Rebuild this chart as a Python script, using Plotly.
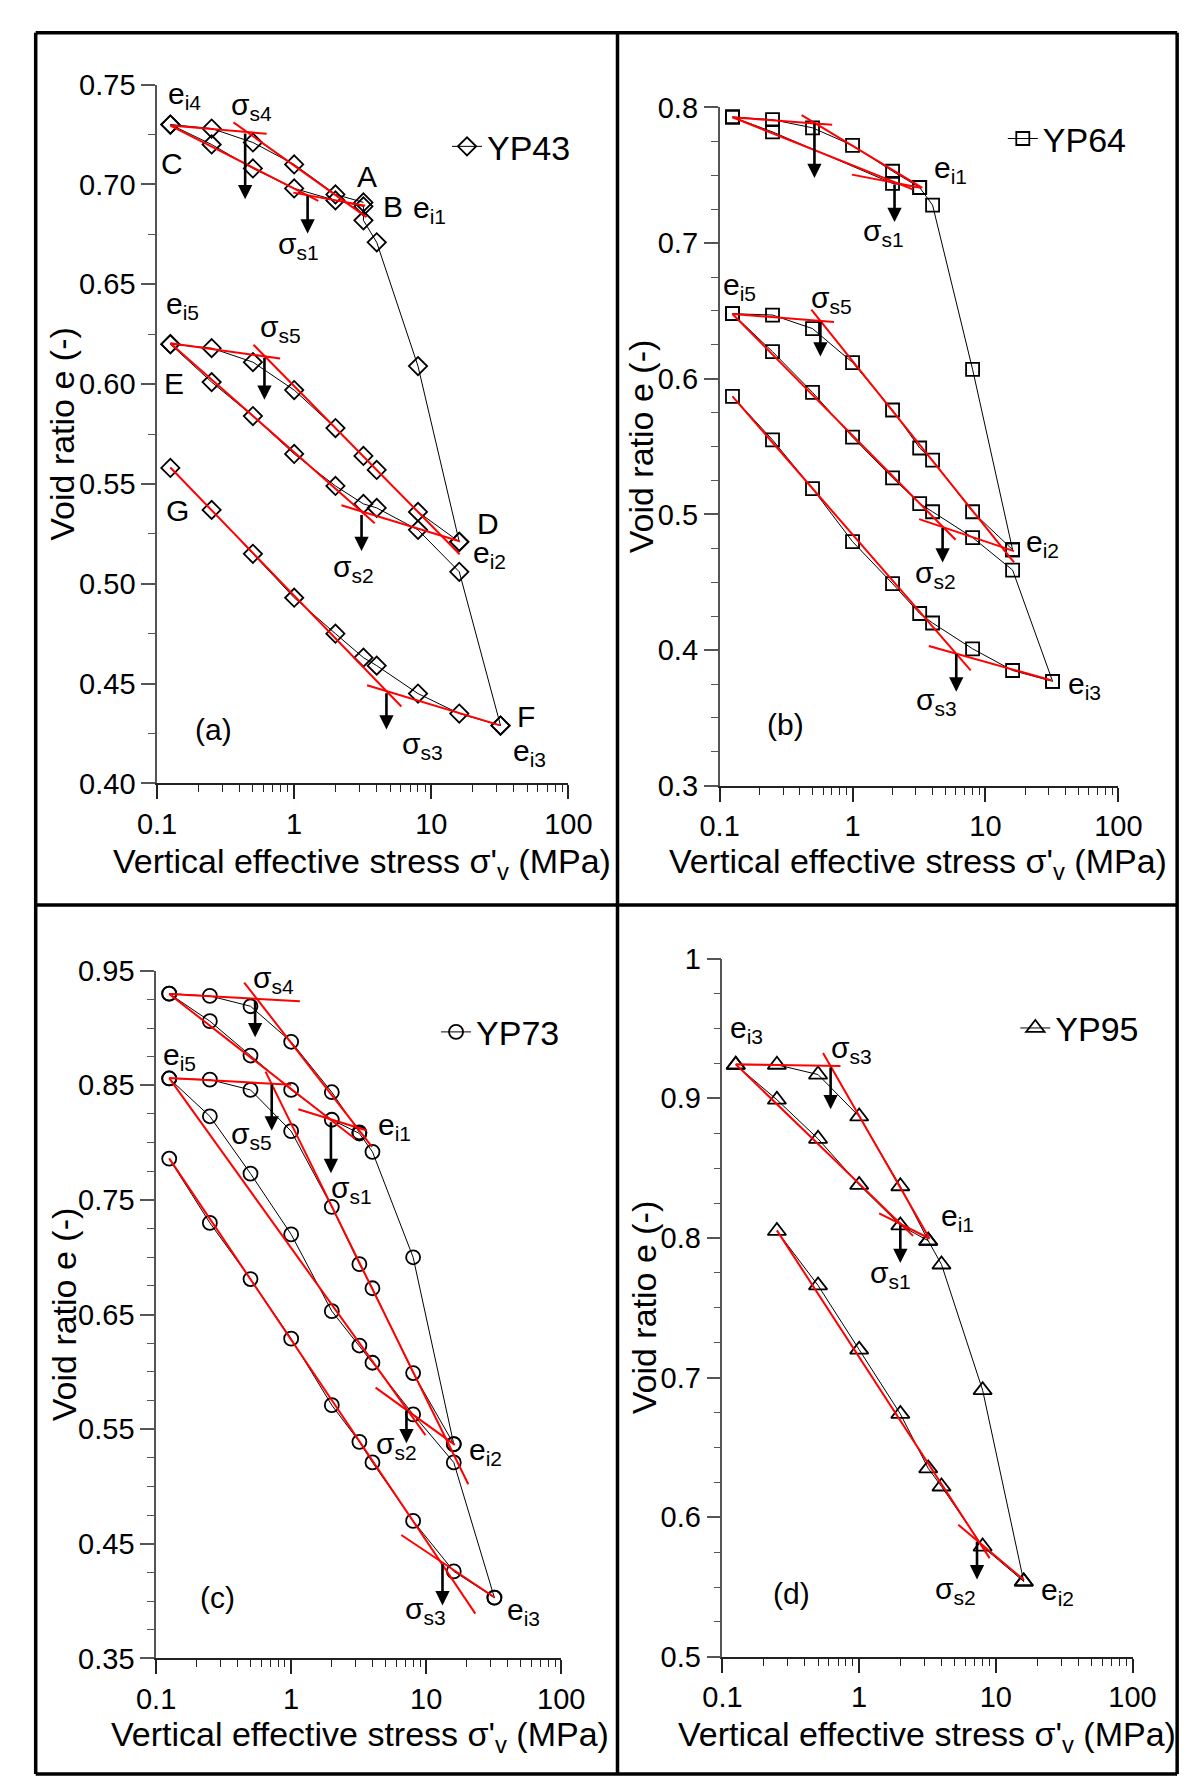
import numpy as np
import plotly.graph_objects as go

# ---------------- DATA ----------------
# Panel (a) YP43
A_UP_S = [0.125, 0.25, 0.5, 1, 2, 3.2]
A_UP_E = [0.730, 0.728, 0.721, 0.710, 0.695, 0.691]
A_LO_S = [0.125, 0.25, 0.5, 1, 2, 3.2, 3.2, 4, 8, 16]
A_LO_E = [0.730, 0.720, 0.708, 0.698, 0.692, 0.689, 0.682, 0.671, 0.609, 0.521]
A_MU_S = [0.125, 0.25, 0.5, 1, 2, 3.2, 4, 8, 16]
A_MU_E = [0.620, 0.618, 0.611, 0.597, 0.578, 0.564, 0.557, 0.536, 0.521]
A_ML_S = [0.125, 0.25, 0.5, 1, 2, 3.2, 4, 8, 16, 32]
A_ML_E = [0.620, 0.601, 0.584, 0.565, 0.549, 0.540, 0.538, 0.527, 0.506, 0.429]
A_LW_S = [0.125, 0.25, 0.5, 1, 2, 3.2, 4, 8, 16, 32]
A_LW_E = [0.558, 0.537, 0.515, 0.493, 0.475, 0.463, 0.459, 0.445, 0.435, 0.429]
A_FIT = [(0.125, 0.7295, 0.63, 0.7254), (0.361, 0.7311, 3.37, 0.6836),
         (0.125, 0.7295, 1.50, 0.6918), (0.986, 0.6959, 3.3, 0.6893),
         (0.125, 0.6205, 0.79, 0.6128), (0.505, 0.6197, 16.1, 0.5148),
         (0.125, 0.6205, 3.87, 0.5303), (2.21, 0.5393, 16.1, 0.5213),
         (0.125, 0.5582, 6.05, 0.4385), (3.4, 0.4492, 31.4, 0.4292)]
A_YIELD = [(0.439, 0.7262, 0.6926), (1.253, 0.6951, 0.6754), (0.607, 0.6139, 0.5921),
           (3.1, 0.5352, 0.5164), (4.71, 0.4459, 0.4270)]
A_LABELS = [("e<sub>i4</sub>", 0.158, 0.7443), ("σ<sub>s4</sub>", 0.49, 0.7391), ("C", 0.129, 0.7103),
            ("A", 3.4, 0.7041), ("B", 5.26, 0.6889), ("e<sub>i1</sub>", 9.7, 0.6874),
            ("σ<sub>s1</sub>", 1.07, 0.6693), ("e<sub>i5</sub>", 0.152, 0.6393), ("σ<sub>s5</sub>", 0.79, 0.6279),
            ("E", 0.132, 0.6004), ("σ<sub>s2</sub>", 2.7, 0.5076), ("D", 25.8, 0.5304),
            ("e<sub>i2</sub>", 26.5, 0.5145), ("G", 0.14, 0.5369), ("σ<sub>s3</sub>", 8.7, 0.4188),
            ("F", 49, 0.4337), ("e<sub>i3</sub>", 51.7, 0.4154), ("(a)", 0.258, 0.4272)]

# Panel (b) YP64
B_UP_S = [0.125, 0.25, 0.5, 1, 2, 3.2]
B_UP_E = [0.793, 0.791, 0.785, 0.772, 0.753, 0.741]
B_LO_S = [0.125, 0.25, 2, 3.2, 4, 8, 16]
B_LO_E = [0.793, 0.782, 0.744, 0.741, 0.728, 0.607, 0.474]
B_MU_S = [0.125, 0.25, 0.5, 1, 2, 3.2, 4, 8, 16]
B_MU_E = [0.648, 0.647, 0.637, 0.612, 0.577, 0.549, 0.540, 0.502, 0.474]
B_ML_S = [0.125, 0.25, 0.5, 1, 2, 3.2, 4, 8, 16, 32]
B_ML_E = [0.648, 0.620, 0.590, 0.557, 0.527, 0.508, 0.502, 0.483, 0.459, 0.377]
B_LW_S = [0.125, 0.25, 0.5, 1, 2, 3.2, 4, 8, 16, 32]
B_LW_E = [0.587, 0.555, 0.519, 0.480, 0.449, 0.427, 0.420, 0.401, 0.385, 0.377]
B_FIT = [(0.125, 0.7928, 0.703, 0.7872), (0.414, 0.7944, 3.35, 0.7408),
         (0.125, 0.7928, 2.84, 0.7396), (0.99, 0.7505, 3.26, 0.7408),
         (0.125, 0.6478, 0.725, 0.6418), (0.49, 0.651, 16.4, 0.4646),
         (0.125, 0.6478, 5.96, 0.4814), (3.17, 0.4966, 16.4, 0.473),
         (0.125, 0.587, 7.74, 0.3851), (3.75, 0.4031, 31.2, 0.3778)]
B_YIELD = [(0.517, 0.7891, 0.748), (2.07, 0.7444, 0.7155), (0.573, 0.643, 0.6164),
           (4.76, 0.4911, 0.4646), (6.03, 0.3983, 0.3694)]
B_LABELS = [("e<sub>i4</sub>", 0.144, 0.8109), ("σ<sub>s4</sub>", 0.665, 0.8033), ("e<sub>i1</sub>", 5.5, 0.7542),
            ("σ<sub>s1</sub>", 1.72, 0.7077), ("e<sub>i5</sub>", 0.142, 0.6684), ("σ<sub>s5</sub>", 0.70, 0.6581),
            ("e<sub>i2</sub>", 27, 0.4789), ("σ<sub>s2</sub>", 4.19, 0.4555), ("σ<sub>s3</sub>", 4.3, 0.3625),
            ("e<sub>i3</sub>", 56, 0.3736), ("(b)", 0.313, 0.345)]

# Panel (c) YP73
C_UP_S = [0.125, 0.25, 0.5, 1, 2, 3.2]
C_UP_E = [0.930, 0.928, 0.919, 0.888, 0.844, 0.809]
C_LO_S = [0.125, 0.25, 0.5, 1, 2, 3.2, 4, 8, 16]
C_LO_E = [0.930, 0.906, 0.876, 0.846, 0.820, 0.808, 0.792, 0.700, 0.537]
C_MU_S = [0.125, 0.25, 0.5, 1, 2, 3.2, 4, 8, 16]
C_MU_E = [0.856, 0.855, 0.846, 0.810, 0.744, 0.694, 0.673, 0.599, 0.537]
C_ML_S = [0.125, 0.25, 0.5, 1, 2, 3.2, 4, 8, 16, 32]
C_ML_E = [0.856, 0.823, 0.773, 0.720, 0.653, 0.623, 0.608, 0.563, 0.521, 0.403]
C_LW_S = [0.125, 0.25, 0.5, 1, 2, 3.2, 4, 8, 16, 32]
C_LW_E = [0.786, 0.730, 0.681, 0.629, 0.571, 0.539, 0.521, 0.470, 0.426, 0.403]
C_FIT = [(0.125, 0.9297, 1.16, 0.9234), (0.449, 0.9397, 3.97, 0.7963),
         (0.125, 0.9297, 2.97, 0.8034), (1.13, 0.8291, 3.64, 0.8106),
         (0.125, 0.8563, 1.0, 0.8506), (0.646, 0.862, 20.5, 0.502),
         (0.125, 0.8563, 9.87, 0.5449), (4.22, 0.5863, 16.3, 0.5363),
         (0.125, 0.7863, 23.1, 0.3891), (6.54, 0.4577, 32, 0.4034)]
C_YIELD = [(0.541, 0.9249, 0.892), (0.718, 0.852, 0.8106), (1.97, 0.8191, 0.7734),
           (7.14, 0.5677, 0.5377), (13.2, 0.4334, 0.3963)]
C_LABELS = [("e<sub>i4</sub>", 0.149, 0.9541), ("σ<sub>s4</sub>", 0.746, 0.942), ("e<sub>i5</sub>", 0.149, 0.8749),
            ("σ<sub>s5</sub>", 0.51, 0.8063), ("e<sub>i1</sub>", 5.82, 0.8142), ("σ<sub>s1</sub>", 2.79, 0.7587),
            ("σ<sub>s2</sub>", 5.98, 0.536), ("e<sub>i2</sub>", 27.6, 0.5307), ("σ<sub>s3</sub>", 9.87, 0.3922),
            ("e<sub>i3</sub>", 52.6, 0.3907), ("(c)", 0.284, 0.4036)]

# Panel (d) YP95
D_UP_S = [0.125, 0.25, 0.5, 1, 2, 3.2]
D_UP_E = [0.924, 0.924, 0.917, 0.887, 0.837, 0.798]
D_LO_S = [0.125, 0.25, 0.5, 1, 2, 3.2, 4, 8, 16]
D_LO_E = [0.924, 0.899, 0.871, 0.838, 0.809, 0.798, 0.781, 0.691, 0.554]
D_LW_S = [0.25, 0.5, 1, 2, 3.2, 4, 8, 16]
D_LW_E = [0.805, 0.766, 0.720, 0.674, 0.635, 0.622, 0.579, 0.554]
D_FIT = [(0.125, 0.9243, 0.73, 0.9231), (0.544, 0.9325, 3.27, 0.7996),
         (0.125, 0.9243, 2.48, 0.8015), (1.40, 0.8176, 3.27, 0.7996),
         (0.25, 0.8054, 9.0, 0.5707), (5.31, 0.5946, 16.1, 0.555)]
D_YIELD = [(0.618, 0.9231, 0.8922), (2.0, 0.8101, 0.782), (7.28, 0.5836, 0.5555)]
D_LABELS = [("e<sub>i3</sub>", 0.151, 0.9496), ("σ<sub>s3</sub>", 0.873, 0.935), ("e<sub>i1</sub>", 5.2, 0.8148),
            ("σ<sub>s1</sub>", 1.70, 0.7738), ("σ<sub>s2</sub>", 5.06, 0.5476), ("e<sub>i2</sub>", 28.4, 0.5471),
            ("(d)", 0.321, 0.5453)]

X_TICKS = [0.1, 1, 10, 100]
X_TICKTEXT = ["0.1", "1", "10", "100"]

# ---------------- LAYOUT ----------------
W, H = 1197, 1785
FONT = "Liberation Sans, Arial, sans-serif"


def fx(px):
    return px / W


def fy(py):
    return 1 - py / H


PANELS = [
    dict(name="YP43", sym="diamond-open", msize=14,
         branches=[(A_UP_S, A_UP_E), (A_LO_S, A_LO_E), (A_MU_S, A_MU_E), (A_ML_S, A_ML_E), (A_LW_S, A_LW_E)],
         fit=A_FIT, yld=A_YIELD, labels=A_LABELS,
         xdom=(134, 561), ydom=(773.3, 61.7), yrange=(0.40, 0.75), dtick=0.05, tick0=0.40, fmt=".2f",
         ytext=None, leg=(456, 125), ytitle_x=35, xtitle_x=347, xtitle_y=855),
    dict(name="YP64", sym="square-open", msize=13,
         branches=[(B_UP_S, B_UP_E), (B_LO_S, B_LO_E), (B_MU_S, B_MU_E), (B_ML_S, B_ML_E), (B_LW_S, B_LW_E)],
         fit=B_FIT, yld=B_YIELD, labels=B_LABELS,
         xdom=(718, 1132), ydom=(775.7, 85), yrange=(0.3, 0.8), dtick=0.1, tick0=0.3, fmt=".1f",
         ytext=None, leg=(1033, 117), ytitle_x=636, xtitle_x=924, xtitle_y=855),
    dict(name="YP73", sym="circle-open", msize=14,
         branches=[(C_UP_S, C_UP_E), (C_LO_S, C_LO_E), (C_MU_S, C_MU_E), (C_ML_S, C_ML_E), (C_LW_S, C_LW_E)],
         fit=C_FIT, yld=C_YIELD, labels=C_LABELS,
         xdom=(133, 553.6), ydom=(1664.3, 964), yrange=(0.35, 0.95), dtick=0.1, tick0=0.35, fmt=".2f",
         ytext=None, leg=(444.6, 1026.7), ytitle_x=37, xtitle_x=345, xtitle_y=1744),
    dict(name="YP95", sym="triangle-up-open", msize=16,
         branches=[(D_UP_S, D_UP_E), (D_LO_S, D_LO_E), (D_LW_S, D_LW_E)],
         fit=D_FIT, yld=D_YIELD, labels=D_LABELS,
         xdom=(721, 1146.7), ydom=(1662.7, 951.7), yrange=(0.5, 1.0), dtick=0.1, tick0=0.5, fmt=".1f",
         ytext=["0.5", "0.6", "0.7", "0.8", "0.9", "1"], leg=(1046, 1022.7), ytitle_x=639,
         xtitle_x=933, xtitle_y=1744),
]

fig = go.Figure()
layout = dict(width=W, height=H, margin=dict(l=0, r=0, t=0, b=0),
              paper_bgcolor="white", plot_bgcolor="white",
              font=dict(family=FONT, size=29, color="black"),
              annotations=[], shapes=[])

minor_x = [k * 10.0 ** d for d in (-1, 0, 1) for k in range(2, 10)]

for i, p in enumerate(PANELS):
    n = "" if i == 0 else str(i + 1)
    xa, ya = "x" + n, "y" + n
    legname = "legend" + n
    # black data branches
    for j, (s, e) in enumerate(p["branches"]):
        fig.add_trace(go.Scatter(
            x=s, y=e, xaxis=xa, yaxis=ya, mode="lines+markers", name=p["name"],
            line=dict(color="black", width=1),
            marker=dict(symbol=p["sym"], size=p["msize"], color="black", line=dict(width=1.8, color="black")),
            showlegend=(j == 0), legend=legname))
    # red fit lines
    rx, ry = [], []
    for (x0, e0, x1, e1) in p["fit"]:
        rx += [x0, x1, None]
        ry += [e0, e1, None]
    fig.add_trace(go.Scatter(x=rx, y=ry, xaxis=xa, yaxis=ya, mode="lines",
                             line=dict(color="#ff0000", width=2), showlegend=False, hoverinfo="skip"))
    # axes
    layout["xaxis" + n] = dict(
        domain=[fx(p["xdom"][0]), fx(p["xdom"][1])], anchor=ya, type="log", range=[-1, 2],
        tickmode="array", tickvals=X_TICKS, ticktext=X_TICKTEXT, ticks="outside", ticklen=14,
        tickwidth=1.5, tickcolor="#222", showline=True, linecolor="#222", linewidth=1.5,
        showgrid=False, zeroline=False, tickfont=dict(size=29),
        minor=dict(tickmode="array", tickvals=minor_x, ticks="outside", ticklen=7,
                   tickwidth=1.2, tickcolor="#222", showgrid=False))
    yax = dict(
        domain=[fy(p["ydom"][0]), fy(p["ydom"][1])], anchor=xa, range=list(p["yrange"]),
        ticks="outside", ticklen=14, tickwidth=1.5, tickcolor="#555", showline=True,
        linecolor="#555", linewidth=1.5, showgrid=False, zeroline=False, tickfont=dict(size=29),
        minor=dict(ticks="outside", ticklen=7, tickwidth=1.2, tickcolor="#555", dtick=0.025,
                   tick0=p["tick0"], showgrid=False))
    if p["ytext"] is None:
        yax.update(tick0=p["tick0"], dtick=p["dtick"], tickformat=p["fmt"])
    else:
        vals = [p["yrange"][0] + k * p["dtick"] for k in range(len(p["ytext"]))]
        yax.update(tickmode="array", tickvals=vals, ticktext=p["ytext"])
    layout["yaxis" + n] = yax
    # legend
    layout[legname] = dict(x=fx(p["leg"][0] - 21), y=fy(p["leg"][1]), xanchor="left", yanchor="middle",
                           bgcolor="rgba(0,0,0,0)", borderwidth=0, font=dict(size=34, family=FONT))
    # yield-stress arrows
    for (xs, e0, e1) in p["yld"]:
        layout["annotations"].append(dict(
            x=np.log10(xs), y=e1, ax=np.log10(xs), ay=e0, xref=xa, yref=ya, axref=xa, ayref=ya,
            text="", showarrow=True, arrowhead=2, arrowsize=1.1, arrowwidth=2.6, arrowcolor="black",
            standoff=0, startstandoff=0))
    # labels
    for (t, xs, e) in p["labels"]:
        layout["annotations"].append(dict(
            x=np.log10(xs), y=e, xref=xa, yref=ya, text=t, showarrow=False,
            font=dict(size=30, family=FONT, color="black"), xanchor="center", yanchor="middle"))
    # axis titles
    layout["annotations"].append(dict(
        x=fx(p["ytitle_x"]), y=(fy(p["ydom"][0]) + fy(p["ydom"][1])) / 2, xref="paper", yref="paper",
        text="Void ratio e (-)", textangle=-90, showarrow=False, font=dict(size=34, family=FONT),
        xanchor="center", yanchor="middle"))
    layout["annotations"].append(dict(
        x=fx(p["xtitle_x"]), y=fy(p["xtitle_y"]), xref="paper", yref="paper",
        text="Vertical effective stress σ'<sub>v</sub> (MPa)", showarrow=False,
        font=dict(size=34, family=FONT), xanchor="center", yanchor="middle"))

# panel frames
frame = dict(type="line", xref="paper", yref="paper", line=dict(color="black", width=3.5))
for (x0, y0, x1, y1) in [(8, 9, 1193, 9), (8, 1782, 1193, 1782), (8, 9, 8, 1782), (1193, 9, 1193, 1782),
                         (612, 9, 612, 1782), (8, 897, 1193, 897)]:
    layout["shapes"].append(dict(frame, x0=fx(x0), y0=fy(y0), x1=fx(x1), y1=fy(y1)))

fig.update_layout(**layout)
fig.write_html("out.html")
